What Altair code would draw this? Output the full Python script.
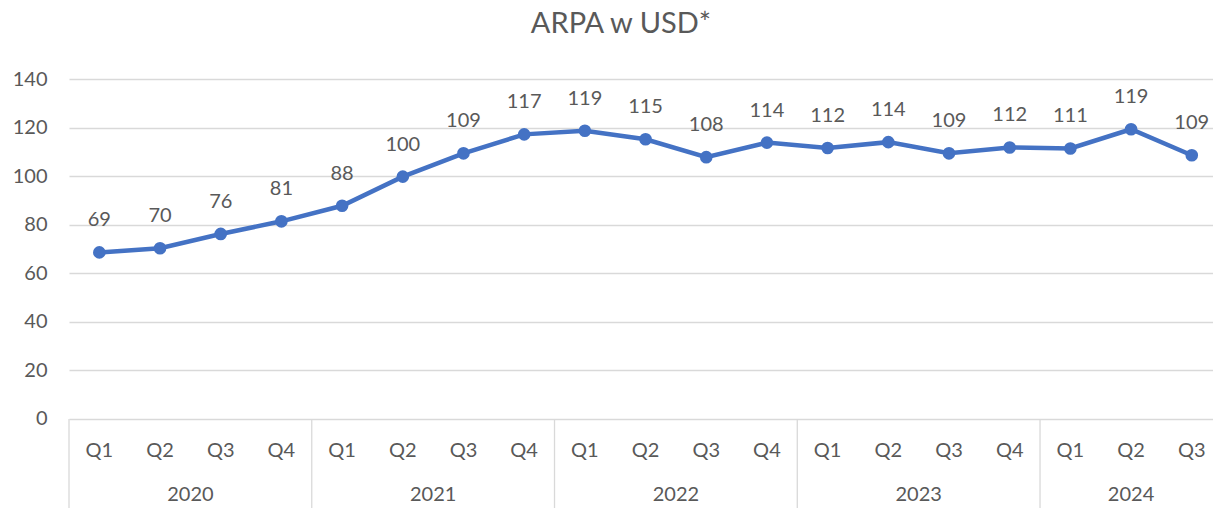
import altair as alt
import pandas as pd

years = ["2020"] * 4 + ["2021"] * 4 + ["2022"] * 4 + ["2023"] * 4 + ["2024"] * 3
quarters = ["Q1", "Q2", "Q3", "Q4"] * 4 + ["Q1", "Q2", "Q3"]
values = [68.6, 70.3, 76.2, 81.4, 87.8, 99.8, 109.4, 117.2,
          118.7, 115.2, 107.8, 113.8, 111.6, 114.0, 109.4, 111.8,
          111.4, 119.3, 108.6]
year_names = ["2020", "2021", "2022", "2023", "2024"]
y_ticks = [0, 20, 40, 60, 80, 100, 120, 140]

FONT = "Lato"
TXT = "#595959"
GRID = "#D9D9D9"
BLUE = "#4472C4"

df = pd.DataFrame({"idx": list(range(len(values))), "year": years,
                   "quarter": quarters, "value": values})

yr_rows = []
bounds = []
for y in year_names:
    ids = [i for i, yy in enumerate(years) if yy == y]
    yr_rows.append({"year": y, "center": sum(ids) / len(ids)})
    bounds.append(min(ids) - 0.5)
yr_df = pd.DataFrame(yr_rows)
bd_df = pd.DataFrame({"b": bounds})

W, H = 1144, 429
xs = alt.Scale(domain=[-0.5, 18.35], nice=False, zero=False)
ys = alt.Scale(domain=[-36.65, 140], nice=False, zero=False)

base = alt.Chart(df)

grid = base.mark_line(opacity=0).encode(
    x=alt.X("idx:Q", scale=xs, axis=None),
    y=alt.Y("value:Q", scale=ys, title=None,
            axis=alt.Axis(values=y_ticks, grid=True, gridColor=GRID, gridWidth=1.3,
                          domain=False, ticks=False, labelPadding=22,
                          labelFont=FONT, labelFontSize=20, labelColor=TXT)),
)

line = base.mark_line(color=BLUE, strokeWidth=4.5).encode(
    x=alt.X("idx:Q", scale=xs, axis=None),
    y=alt.Y("value:Q", scale=ys),
)
pts = base.mark_circle(color=BLUE, size=160, opacity=1).encode(
    x=alt.X("idx:Q", scale=xs, axis=None),
    y=alt.Y("value:Q", scale=ys),
)
labels = base.mark_text(font=FONT, fontSize=20, color=TXT, dy=-32, baseline="middle").encode(
    x=alt.X("idx:Q", scale=xs, axis=None),
    y=alt.Y("value:Q", scale=ys),
    text=alt.Text("value:Q", format=".0f"),
)

qlab = base.mark_text(font=FONT, fontSize=20, color=TXT, baseline="middle").encode(
    x=alt.X("idx:Q", scale=xs, axis=None),
    y=alt.datum(-13.2, scale=ys),
    text="quarter:N",
)
ylab = alt.Chart(yr_df).mark_text(font=FONT, fontSize=20, color=TXT, baseline="middle").encode(
    x=alt.X("center:Q", scale=xs, axis=None),
    y=alt.datum(-31.2, scale=ys),
    text="year:N",
)
vlines = alt.Chart(bd_df).mark_rule(color=GRID, strokeWidth=1.3).encode(
    x=alt.X("b:Q", scale=xs, axis=None),
    y=alt.datum(0, scale=ys),
    y2=alt.value(H),
)

chart = alt.layer(grid, vlines, line, pts, labels, qlab, ylab).properties(
    width=W, height=H,
    autosize=alt.AutoSizeParams(type="none"),
    padding={"left": 61, "top": 71, "right": 0, "bottom": 0},
    title=alt.TitleParams("ARPA w USD*", font=FONT, fontSize=29, fontWeight="normal",
                          color=TXT, anchor="middle", offset=30, dx=-20),
).configure_view(stroke=None)

chart.save("out.html", embed_options={"renderer": "svg", "actions": False})
